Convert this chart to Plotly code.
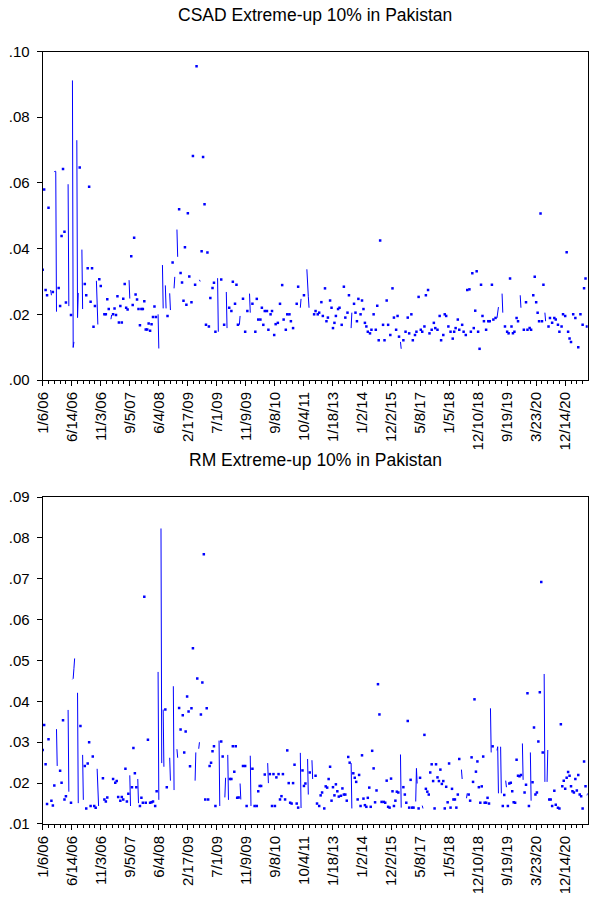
import plotly.graph_objects as go

N_OBS = 752  # observations in the workfile sample

# Observation labels shown every 40 observations
tick_obs = list(range(0, 760, 40))
tick_labels = ["1/6/06", "6/14/06", "11/3/06", "9/5/07", "6/4/08", "2/17/09", "7/1/09",
               "11/9/09", "9/8/10", "10/4/11", "1/18/13", "1/2/14", "12/2/15", "5/8/17",
               "1/5/18", "12/10/18", "9/19/19", "3/23/20", "12/14/20"]

# CSAD on extreme-up days (observation number, value); all other days are NA
csad_obs = [0, 2, 4, 6, 8, 11, 12, 14, 16, 17, 18, 19, 22, 24, 26, 28, 30, 32, 35, 36, 39,
            41, 42, 43, 47, 48, 49, 51, 54, 55, 58, 60, 62, 64, 66, 68, 70, 72, 74, 75, 76,
            78, 80, 85, 87, 89, 91, 94, 95, 97, 99, 101, 103, 105, 107, 109, 111, 113, 115,
            117, 119, 120, 122, 124, 126, 128, 130, 132, 134, 136, 138, 140, 142, 144, 146,
            148, 150, 152, 154, 156, 159, 160, 165, 166, 169, 170, 172, 175, 176, 179, 181,
            182, 185, 186, 188, 190, 192, 194, 196, 198, 200, 202,
            205, 207, 210, 212, 216, 217, 219, 221, 223, 225, 227, 229, 231, 234, 236, 238,
            241, 242, 246, 250, 253, 254, 257, 260, 262, 265, 267, 269, 271, 272, 276, 279,
            282, 285, 286, 289, 293, 295, 297, 300, 302, 304, 306, 309, 311, 314, 316, 319,
            321, 324, 327, 330, 332, 335, 337, 340, 342, 345, 350, 352, 355, 356, 360, 364,
            365, 366, 367, 374, 376, 379, 381, 384, 386, 389, 391, 393, 396, 398, 400, 402,
            404, 407, 409, 412, 415, 417, 420, 422, 425, 426, 429, 431, 433, 435, 438, 440,
            442, 444, 446, 448, 451, 453, 456, 459, 461, 463, 465, 469, 471, 474, 476, 479,
            482, 484, 487, 489, 491, 493, 494, 497, 500, 503, 505, 508, 510, 513, 515, 518,
            521, 523, 526, 528, 531, 533, 536, 539, 541, 544, 547, 549, 552, 554, 556, 559,
            562, 565, 567, 569, 572, 574, 578, 580, 583, 585, 588, 590, 592, 594, 596, 598,
            600, 602, 604, 606, 608, 611, 614, 616, 619, 621, 624, 626, 627, 628, 633, 634,
            637, 640, 642, 644, 646, 648, 650, 653, 655, 658, 659, 663, 666, 668, 671, 673,
            676, 678, 680, 682, 684, 686, 688, 690, 692, 693, 697, 699, 702, 705, 707, 710,
            712, 715, 717, 720, 722, 724, 726, 728, 731, 734, 738, 741, 744, 746, 748, 750]
csad_val = [0.0336, 0.0580, 0.0274, 0.0258, 0.0524, 0.0274, 0.0258, 0.0268, 0.0633, 0.0636,
            0.0635, 0.0208, 0.0280, 0.0225, 0.0438, 0.0642, 0.0451, 0.0236, 0.0596, 0.0225,
            0.0198, 0.0912, 0.0099, 0.0116, 0.0730, 0.0190, 0.0265, 0.0647, 0.0397, 0.0216,
            0.0292, 0.0258, 0.0340, 0.0588, 0.0238, 0.0340, 0.0162, 0.0225, 0.0302, 0.0236,
            0.0169, 0.0307, 0.0286, 0.0200, 0.0200, 0.0246, 0.0216, 0.0185, 0.0198, 0.0200,
            0.0218, 0.0198, 0.0255, 0.0175, 0.0225, 0.0175, 0.0247, 0.0292, 0.0220, 0.0215,
            0.0304, 0.0248, 0.0377, 0.0228, 0.0433, 0.0260, 0.0245, 0.0216, 0.0167, 0.0216,
            0.0216, 0.0240, 0.0154, 0.0154, 0.0172, 0.0150, 0.0170, 0.0192, 0.0224, 0.0192,
            0.0200, 0.0096, 0.0350, 0.0218, 0.0288, 0.0218, 0.0195, 0.0264, 0.0213, 0.0358,
            0.0279, 0.0314, 0.0458, 0.0375, 0.0520, 0.0326, 0.0297, 0.0241, 0.0404, 0.0229,
            0.0508, 0.0315,
            0.0237, 0.0682, 0.0290, 0.0955, 0.0305, 0.0300, 0.0392, 0.0679, 0.0535, 0.0168,
            0.0388, 0.0163, 0.0250, 0.0280, 0.0296, 0.0147, 0.0310, 0.0147, 0.0306, 0.0168,
            0.0268, 0.0158, 0.0220, 0.0210, 0.0299, 0.0232, 0.0290, 0.0168, 0.0168, 0.0195,
            0.0247, 0.0147, 0.0210, 0.0263, 0.0205, 0.0232, 0.0147, 0.0247, 0.0184, 0.0184,
            0.0220, 0.0168, 0.0210, 0.0210, 0.0153, 0.0200, 0.0210, 0.0137, 0.0170, 0.0174,
            0.0232, 0.0289, 0.0184, 0.0153, 0.0200, 0.0200, 0.0179, 0.0158, 0.0232, 0.0284,
            0.0220, 0.0247, 0.0258, 0.0337, 0.0258, 0.0255, 0.0220, 0.0200, 0.0210, 0.0200,
            0.0205, 0.0237, 0.0195, 0.0279, 0.0179, 0.0190, 0.0242, 0.0220, 0.0158, 0.0174,
            0.0195, 0.0216, 0.0220, 0.0168, 0.0284, 0.0190, 0.0205, 0.0258, 0.0158, 0.0205,
            0.0232, 0.0205, 0.0179, 0.0247, 0.0200, 0.0242, 0.0216, 0.0174, 0.0163, 0.0147,
            0.0142, 0.0153, 0.0200, 0.0153, 0.0226, 0.0121, 0.0425, 0.0168, 0.0121, 0.0242,
            0.0168, 0.0137, 0.0279, 0.0190, 0.0153, 0.0195, 0.0132, 0.0116, 0.0095, 0.0121,
            0.0147, 0.0190, 0.0142, 0.0200, 0.0121, 0.0137, 0.0147, 0.0253, 0.0153, 0.0147,
            0.0163, 0.0258, 0.0274, 0.0142, 0.0153, 0.0174, 0.0158, 0.0153, 0.0195, 0.0121,
            0.0137, 0.0200, 0.0195, 0.0163, 0.0147, 0.0126, 0.0147, 0.0158, 0.0184, 0.0153,
            0.0168, 0.0147, 0.0137, 0.0274, 0.0276, 0.0147, 0.0325, 0.0158, 0.0211, 0.0331,
            0.0147, 0.0095, 0.0290, 0.0195, 0.0179, 0.0153, 0.0179, 0.0179, 0.0290, 0.0184,
            0.0189, 0.0189, 0.0200, 0.0222, 0.0263, 0.0205, 0.0163, 0.0147, 0.0142, 0.0309,
            0.0163, 0.0142, 0.0147, 0.0189, 0.0179, 0.0258, 0.0220, 0.0153, 0.0237, 0.0153,
            0.0158, 0.0153, 0.0258, 0.0314, 0.0237, 0.0205, 0.0179, 0.0507, 0.0179, 0.0290,
            0.0205, 0.0179, 0.0163, 0.0189, 0.0174, 0.0189, 0.0184, 0.0168, 0.0147, 0.0163,
            0.0200, 0.0195, 0.0389, 0.0147, 0.0126, 0.0116, 0.0200, 0.0189, 0.0100, 0.0200,
            0.0168, 0.0279, 0.0309, 0.0163]

# Market return on extreme-up days (observation number, value)
rm_obs = [0, 2, 4, 6, 8, 12, 14, 16, 19, 20, 24, 26, 28, 30, 32, 35, 36, 39, 41, 42, 43, 44,
          48, 49, 52, 55, 56, 58, 60, 62, 64, 66, 69, 71, 73, 75, 76, 77, 83, 85, 87, 89, 97,
          100, 102, 104, 107, 109, 111, 114, 116, 118, 120, 121, 123, 125, 127, 129, 131,
          132, 134, 136, 138, 140, 142, 145, 148, 150, 152, 155, 157, 159, 160, 163, 164,
          166, 167, 169, 171, 175, 176, 180, 181, 185, 186, 188, 190, 193, 195, 197, 199,
          201, 203, 205, 207, 210, 211, 213, 215, 216, 218, 220, 222, 224, 226, 228, 230,
          232, 234, 236, 238, 243, 244, 246, 248, 251, 252, 255, 256, 258, 260, 262, 264,
          266, 268, 270, 272, 273, 276, 279, 281, 286, 287, 289, 292, 295, 297, 299, 301,
          306, 310, 311, 313, 316, 318, 320, 322, 325, 327, 329, 331, 334, 337, 339, 341,
          343, 345, 347, 350, 352, 355, 356, 358, 360, 362, 365, 366, 368, 371, 372, 376,
          378, 381, 383, 385, 388, 390, 392, 394, 396, 398, 400, 402, 404, 406, 408, 411,
          413, 415, 417, 419, 421, 423, 425, 426, 428, 430, 432, 434, 436, 438, 440, 442,
          444, 446, 448, 450, 452, 454, 456, 458, 460, 462, 464, 467, 470, 472, 474, 476,
          478, 480, 482, 484, 486, 488, 490, 493, 494, 497, 499, 501, 503, 505, 507, 509,
          511, 514, 515, 516, 518, 520, 523, 524, 526, 528, 530, 532, 534, 536, 538, 540,
          542, 544, 546, 548, 550, 552, 554, 556, 558, 560, 562, 564, 566, 568, 570, 572,
          574, 577, 578, 584, 585, 587, 589, 591, 593, 595, 597, 599, 601, 603, 605, 607,
          609, 611, 613, 615, 617, 618, 620, 626, 627, 628, 631, 632, 634, 636, 638, 639,
          641, 643, 645, 647, 649, 651, 653, 655, 657, 659, 661, 662, 664, 666, 668, 670,
          672, 673, 675, 677, 679, 681, 683, 685, 687, 689, 691, 692, 695, 696, 698, 700,
          702, 705, 707, 710, 712, 714, 716, 718, 720, 722, 724, 726, 728, 730, 732, 734,
          736, 738, 740, 742, 744, 746, 748, 750, 751]
rm_val = [0.0281, 0.0342, 0.0246, 0.0149, 0.0307, 0.0157, 0.0145, 0.0194, 0.0332, 0.0242,
          0.0230, 0.0201, 0.0354, 0.0160, 0.0168, 0.0379, 0.0179, 0.0152, 0.0454, 0.0456,
          0.0480, 0.0505, 0.0421, 0.0151, 0.0340, 0.0269, 0.0159, 0.0242, 0.0138, 0.0248,
          0.0300, 0.0144, 0.0265, 0.0144, 0.0140, 0.0235, 0.0190, 0.0144, 0.0212, 0.0160,
          0.0155, 0.0165, 0.0210, 0.0201, 0.0205, 0.0166, 0.0157, 0.0166, 0.0160, 0.0235,
          0.0155, 0.0174, 0.0219, 0.0144, 0.0190, 0.0286, 0.0224, 0.0190, 0.0210, 0.0151,
          0.0144, 0.0164, 0.0152, 0.0656, 0.0152, 0.0306, 0.0152, 0.0153, 0.0155, 0.0144,
          0.0180, 0.0472, 0.0159, 0.0823, 0.0249, 0.0380, 0.0240, 0.0380, 0.0190, 0.0262,
          0.0206, 0.0437, 0.0183, 0.0283, 0.0262, 0.0384, 0.0331, 0.0366, 0.0275, 0.0326,
          0.0412, 0.0375, 0.0241, 0.0383, 0.0530, 0.0206, 0.0275, 0.0456, 0.0284, 0.0300,
          0.0368, 0.0446, 0.0760, 0.0160, 0.0383, 0.0160, 0.0242, 0.0250, 0.0278, 0.0290,
          0.0144, 0.0304, 0.0144, 0.0302, 0.0265, 0.0165, 0.0213, 0.0269, 0.0159, 0.0210,
          0.0210, 0.0290, 0.0228, 0.0290, 0.0164, 0.0165, 0.0199, 0.0160, 0.0242, 0.0242,
          0.0144, 0.0267, 0.0144, 0.0235, 0.0144, 0.0144, 0.0180, 0.0193, 0.0193, 0.0221,
          0.0249, 0.0200, 0.0222, 0.0144, 0.0222, 0.0144, 0.0214, 0.0222, 0.0160, 0.0168,
          0.0222, 0.0160, 0.0280, 0.0200, 0.0152, 0.0150, 0.0200, 0.0245, 0.0150, 0.0140,
          0.0274, 0.0139, 0.0231, 0.0193, 0.0199, 0.0259, 0.0172, 0.0226, 0.0256, 0.0210,
          0.0218, 0.0150, 0.0144, 0.0170, 0.0177, 0.0138, 0.0192, 0.0189, 0.0210, 0.0240,
          0.0157, 0.0190, 0.0170, 0.0197, 0.0180, 0.0167, 0.0169, 0.0187, 0.0172, 0.0172,
          0.0157, 0.0264, 0.0250, 0.0249, 0.0138, 0.0224, 0.0213, 0.0203, 0.0160, 0.0220,
          0.0144, 0.0268, 0.0162, 0.0146, 0.0142, 0.0164, 0.0189, 0.0142, 0.0279, 0.0236,
          0.0153, 0.0182, 0.0442, 0.0368, 0.0154, 0.0154, 0.0152, 0.0206, 0.0142, 0.0140,
          0.0211, 0.0180, 0.0144, 0.0157, 0.0179, 0.0177, 0.0270, 0.0140, 0.0190, 0.0172,
          0.0152, 0.0352, 0.0140, 0.0208, 0.0140, 0.0140, 0.0155, 0.0236, 0.0199, 0.0138,
          0.0213, 0.0145, 0.0138, 0.0318, 0.0186, 0.0179, 0.0172, 0.0226, 0.0246, 0.0205,
          0.0138, 0.0246, 0.0214, 0.0205, 0.0233, 0.0198, 0.0205, 0.0138, 0.0191, 0.0153,
          0.0248, 0.0140, 0.0186, 0.0160, 0.0160, 0.0140, 0.0172, 0.0259, 0.0233, 0.0210,
          0.0163, 0.0175, 0.0172, 0.0157, 0.0263, 0.0203, 0.0405, 0.0228, 0.0253, 0.0190,
          0.0152, 0.0192, 0.0265, 0.0152, 0.0152, 0.0164, 0.0150, 0.0383, 0.0275, 0.0290,
          0.0280, 0.0289, 0.0175, 0.0289, 0.0175, 0.0144, 0.0171, 0.0206, 0.0190, 0.0144,
          0.0199, 0.0201, 0.0180, 0.0153, 0.0152, 0.0257, 0.0218, 0.0217, 0.0220, 0.0297,
          0.0208, 0.0177, 0.0196, 0.0420, 0.0144, 0.0275, 0.0157, 0.0202, 0.0336, 0.0172,
          0.0177, 0.0302, 0.0422, 0.0692, 0.0275, 0.0467, 0.0203, 0.0203, 0.0281, 0.0160,
          0.0160, 0.0144, 0.0181, 0.0147, 0.0140, 0.0138, 0.0344, 0.0192, 0.0206, 0.0186,
          0.0213, 0.0227, 0.0218, 0.0192, 0.0180, 0.0177, 0.0210, 0.0182, 0.0220, 0.0172,
          0.0168, 0.0138, 0.0253, 0.0192, 0.0170, 0.0175]

BLUE = "#0000FF"
FONT = "Arial, Liberation Sans, sans-serif"


def full_series(obs, val):
    """Spread the observed values over the whole sample, NA elsewhere."""
    y = [None] * N_OBS
    for i, v in zip(obs, val):
        y[i] = v
    return y


def isolated(y):
    """Observations with NA on both sides are shown as single dots."""
    xs, ys = [], []
    for i, v in enumerate(y):
        if v is None:
            continue
        left = y[i - 1] if i > 0 else None
        right = y[i + 1] if i < len(y) - 1 else None
        if left is None and right is None:
            xs.append(i)
            ys.append(v)
    return xs, ys


fig = go.Figure()
panels = [
    ("CSAD Extreme-up 10% in Pakistan", csad_obs, csad_val, "", [0.0, 0.10],
     [0.0, 0.02, 0.04, 0.06, 0.08, 0.10], [".00", ".02", ".04", ".06", ".08", ".10"],
     [0.5787, 0.9429]),
    ("RM Extreme-up 10% in Pakistan", rm_obs, rm_val, "2", [0.01, 0.09],
     [0.01, 0.02, 0.03, 0.04, 0.05, 0.06, 0.07, 0.08, 0.09],
     [".01", ".02", ".03", ".04", ".05", ".06", ".07", ".08", ".09"],
     [0.0865, 0.4490]),
]

for title, obs, val, sfx, yr, yt, ytt, dom in panels:
    y = full_series(obs, val)
    xa, ya = "x" + sfx, "y" + sfx
    fig.add_trace(go.Scatter(x=list(range(N_OBS)), y=y, mode="lines",
                             line=dict(color=BLUE, width=1), connectgaps=False,
                             xaxis=xa, yaxis=ya, showlegend=False, hoverinfo="skip"))
    ix, iy = isolated(y)
    fig.add_trace(go.Scatter(x=ix, y=iy, mode="markers",
                             marker=dict(color=BLUE, size=2.5, symbol="square",
                                         line=dict(width=0)),
                             xaxis=xa, yaxis=ya, showlegend=False, hoverinfo="skip"))
    axis_x = dict(domain=[0.0725, 0.9978], range=[0, N_OBS - 1], tickmode="array",
                  tickvals=tick_obs, ticktext=tick_labels, tickangle=-90,
                  ticks="outside", ticklen=5, tickcolor="black", automargin=False,
                  minor=dict(tickmode="linear", tick0=0, dtick=8, ticks="outside",
                             ticklen=3, tickcolor="black"),
                  showline=True, linecolor="black", linewidth=1, mirror=True,
                  showgrid=False, zeroline=False, anchor=ya,
                  tickfont=dict(family=FONT, size=15, color="black"))
    axis_y = dict(domain=dom, range=yr, tickmode="array", tickvals=yt, ticktext=ytt,
                  ticks="outside", ticklen=5, tickcolor="black", automargin=False,
                  ticklabelstandoff=4,
                  showline=True, linecolor="black", linewidth=1, mirror=True,
                  showgrid=False, zeroline=False, anchor=xa,
                  tickfont=dict(family=FONT, size=15, color="black"))
    fig.update_layout(**{"xaxis" + sfx: axis_x, "yaxis" + sfx: axis_y})
    top_px = (1 - dom[1]) * 902
    fig.add_annotation(text=title, xref="paper", yref="paper", x=0.5352,
                       y=1 - (top_px - 37) / 902, xanchor="center", yanchor="middle",
                       showarrow=False, font=dict(family=FONT, size=17.5, color="black"))

fig.update_layout(template="none", width=589, height=902,
                  margin=dict(l=0, r=0, t=0, b=0, pad=0, autoexpand=False),
                  paper_bgcolor="white", plot_bgcolor="white")
fig.write_html("out.html")
